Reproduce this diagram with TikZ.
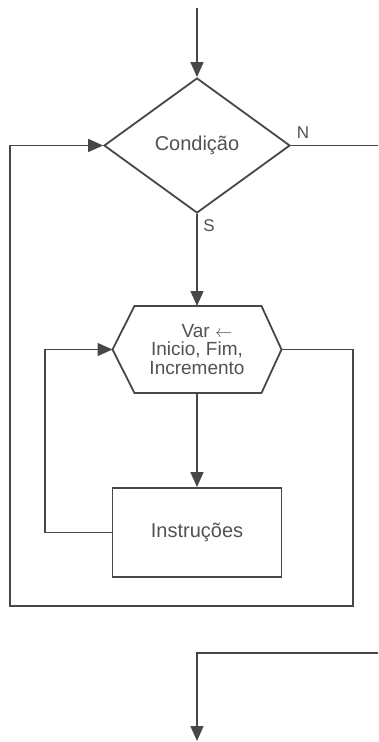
\documentclass[tikz,border=0pt]{standalone}
\usepackage{fontspec}
\setmainfont{Liberation Sans}
\usepackage{tikz}
\usetikzlibrary{arrows.meta,positioning,shapes.geometric,calc}
\tikzset{
  base/.style={draw=black!72, line width=1.8pt},
  txt/.style={font=\fontsize{20}{17}\selectfont, text=black!68},
  dec/.style={base, txt, diamond, minimum width=186pt, minimum height=135pt, inner sep=0pt},
  proc/.style={base, txt, rectangle, minimum width=169pt, minimum height=89pt},
  hexa/.style={txt, font=\fontsize{19}{18.5}\selectfont, align=center, minimum width=169pt, minimum height=87pt, outer sep=0pt},
  lbl/.style={font=\fontsize{17}{17}\selectfont, text=black!68},
  wire/.style={draw=black!72, line width=1.4pt},
  arr/.style={wire, -{Triangle[length=15pt,width=13pt]}}
}
\begin{document}
\begin{tikzpicture}[x=1pt, y=-1pt]
\fill[white] (0,0) rectangle (378,742);
\useasboundingbox (0,0) rectangle (378,742);
\node[dec] (cond) at (197,145.5) {Condição};
\node[hexa] (loop) at (197,349.5) {\hspace*{20pt}Var $\leftarrow$\\Inicio, Fim,\\Incremento};
\draw[base] (loop.west) -- ([xshift=22pt]loop.north west) -- ([xshift=-20pt]loop.north east)
  -- (loop.east) -- ([xshift=-20pt]loop.south east) -- ([xshift=22pt]loop.south west) -- cycle;
\node[proc] (instr) at (197,532.5) {Instruções};
\node[lbl] (nlbl) at (303,133) {N};
\node[lbl] (slbl) at (209,226) {S};
\coordinate (start) at (197,8);
\coordinate (nout) at (378,145.5);
\coordinate (inner) at (45,440);
\coordinate (rloop) at (353,606);
\coordinate (lloop) at (10,606);
\coordinate (exitin) at (378,653);
\coordinate (exit) at (197,741);
\draw[arr] (start) -- (cond.north);
\draw[wire] (cond.east) -- (nout);
\draw[arr] (cond.south) -- (loop.north);
\draw[arr] (loop.south) -- (instr.north);
\draw[arr] (instr.west) -- (instr.west -| inner) |- (loop.west);
\draw[arr] (loop.east) -| (rloop) -- (lloop) |- (cond.west);
\draw[arr] (exitin) -| (exit);
\end{tikzpicture}
\end{document}
